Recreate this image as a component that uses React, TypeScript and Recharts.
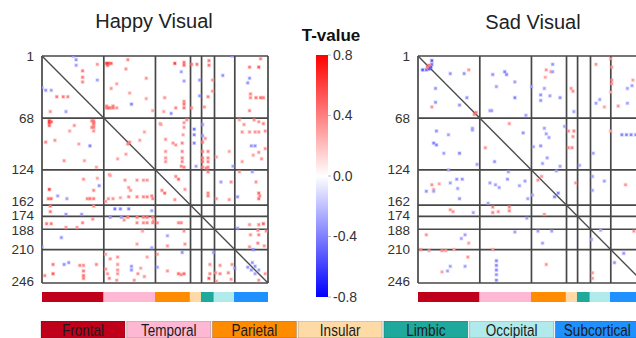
import React from "react";
import {
  ScatterChart,
  Scatter,
  XAxis,
  YAxis,
  ReferenceLine,
  BarChart,
  Bar,
  Cell,
  LabelList,
} from "recharts";

// brain regions (node index where each region starts)
const regionNames = ["Frontal", "Temporal", "Parietal", "Insular", "Limbic", "Occipital", "Subcortical"];
const regionStarts = [1, 68, 124, 162, 174, 188, 210];
const nodeCount = 246;
const regionColors = ["#c0001b", "#ffb8d3", "#ff8c00", "#fddaa6", "#1fa89c", "#b1eaea", "#1e90ff"];

const nodeTicks = [...regionStarts, nodeCount];
const tTicks = [0.8, 0.4, 0, -0.4, -0.8];

// significant edges, upper triangle only: [row, col, t]
const happyEdges: [number, number, number][] = [
  [1, 35, -0.4], [5, 38, -0.4], [11, 38, -0.35], [17, 45, 0.5], [24, 45, 0.5], [29, 45, 0.45],
  [10, 61, 0.4], [27, 61, -0.35], [9, 71, 0.75], [9, 73, 0.75], [9, 76, 0.6], [11, 72, 0.6],
  [5, 94, 0.45], [15, 92, 0.4], [31, 82, 0.35], [36, 76, 0.4], [25, 114, 0.4], [41, 96, 0.35],
  [47, 114, 0.35], [53, 98, -0.45], [55, 71, 0.45], [57, 71, 0.5], [57, 73, 0.55], [57, 75, 0.5],
  [55, 78, 0.45], [57, 78, 0.5], [57, 82, 0.4], [60, 121, 0.35], [9, 145, 0.7], [8, 155, 0.55],
  [11, 155, 0.55], [18, 152, -0.35], [28, 155, -0.35], [46, 134, 0.4], [57, 146, 0.45],
  [50, 155, 0.45], [53, 155, 0.5], [57, 155, 0.5], [63, 141, -0.4], [61, 133, 0.35],
  [10, 163, 0.55], [10, 169, 0.5], [27, 172, -0.4], [44, 172, -0.4], [57, 163, 0.45],
  [6, 182, 0.5], [11, 182, 0.5], [45, 181, 0.45], [27, 186, 0.4], [39, 186, 0.4], [56, 177, 0.4],
  [22, 197, -0.4], [1, 207, -0.4], [13, 226, 0.5], [13, 236, 0.6], [25, 226, -0.4], [30, 224, -0.4],
  [42, 227, 0.45], [46, 227, 0.45], [46, 233, 0.5], [46, 238, 0.55], [46, 241, 0.5], [60, 226, 0.45],
  [4, 238, 0.45],
  [94, 96, 0.45], [92, 107, 0.35], [83, 112, 0.35], [75, 130, 0.35], [91, 135, 0.4], [104, 135, 0.4],
  [111, 135, 0.4], [115, 135, 0.4], [95, 143, 0.4], [97, 146, 0.4], [95, 153, 0.45], [104, 153, 0.45],
  [111, 153, 0.45], [115, 153, 0.45], [121, 155, 0.45], [73, 155, 0.4], [78, 155, 0.4], [70, 158, 0.4],
  [86, 154, 0.35], [80, 166, -0.5], [86, 166, -0.45], [95, 166, -0.45], [75, 175, -0.4], [87, 175, -0.4],
  [94, 175, 0.5], [104, 175, 0.5], [111, 175, 0.5], [115, 175, 0.55], [121, 175, 0.5], [104, 181, 0.45],
  [111, 181, 0.45], [115, 181, 0.45], [121, 181, 0.45], [90, 178, 0.4], [110, 190, 0.35], [104, 204, 0.35],
  [70, 215, 0.35], [83, 218, 0.4], [115, 218, 0.35], [75, 220, 0.4], [83, 226, 0.4], [83, 232, 0.4],
  [83, 236, 0.4], [98, 228, -0.4], [98, 232, -0.4], [105, 236, 0.4], [112, 239, 0.4], [70, 231, 0.4],
  [72, 236, 0.4], [74, 241, 0.45], [108, 230, 0.35], [82, 243, 0.4], [101, 243, 0.4], [74, 129, 0.35],
  [120, 152, 0.45], [120, 168, -0.35], [122, 179, 0.45], [126, 181, 0.45], [120, 208, -0.35],
  [126, 215, 0.4], [126, 229, -0.35], [134, 149, 0.55], [131, 146, 0.45], [145, 156, 0.4],
  [149, 181, 0.45], [152, 181, 0.45], [155, 190, 0.4], [137, 195, -0.35], [137, 206, 0.4],
  [153, 213, -0.4], [156, 204, 0.4], [149, 236, 0.55], [155, 236, 0.55], [137, 233, 0.4], [152, 237, 0.45],
  [187, 213, -0.4], [183, 226, 0.4], [183, 236, 0.45], [189, 235, 0.45], [194, 236, 0.45], [194, 227, 0.4],
  [207, 226, 0.4], [210, 230, -0.45], [203, 235, 0.45], [182, 241, 0.6], [190, 244, 0.4], [206, 242, 0.4],
  [224, 229, -0.4], [228, 232, -0.4], [232, 236, -0.35], [236, 243, 0.4],
];

const sadEdges: [number, number, number][] = [
  [6, 16, -0.6], [10, 16, -0.5], [13, 15, -0.6], [11, 13, 0.5], [20, 36, -0.4], [20, 51, -0.4],
  [16, 56, 0.4], [62, 64, 0.5], [21, 82, -0.4], [18, 95, -0.45], [21, 97, -0.45], [34, 86, -0.35],
  [29, 106, -0.35], [46, 106, -0.45], [60, 79, -0.35], [60, 81, -0.35], [65, 118, -0.35], [46, 54, -0.4],
  [34, 124, -0.35], [16, 140, 0.4], [18, 145, 0.35], [24, 139, 0.35], [10, 147, -0.4], [18, 147, -0.35],
  [36, 138, -0.35], [43, 134, -0.4], [49, 134, -0.4], [44, 144, -0.35], [46, 155, -0.4], [36, 167, 0.4],
  [39, 169, 0.4], [61, 170, -0.35], [10, 194, 0.4], [48, 198, -0.35], [52, 194, -0.35], [56, 203, 0.35],
  [4, 210, 0.45], [13, 211, 0.4], [27, 211, 0.45], [31, 211, 0.4], [40, 210, 0.35], [36, 228, -0.35],
  [52, 228, -0.35], [33, 233, -0.35], [27, 234, 0.35], [55, 218, 0.4],
  [74, 100, 0.4], [84, 115, -0.4], [79, 138, -0.35], [85, 140, -0.35], [98, 134, -0.4], [99, 126, -0.35],
  [77, 160, -0.35], [82, 164, 0.45], [82, 170, 0.45], [88, 169, 0.4], [100, 164, 0.45], [100, 168, 0.45],
  [119, 176, -0.35], [106, 191, -0.35], [82, 210, 0.4], [86, 222, -0.45], [86, 227, -0.45],
  [86, 232, -0.45], [86, 237, -0.4], [86, 243, -0.45], [111, 141, -0.35], [120, 155, -0.35],
  [89, 143, -0.35], [117, 136, -0.35],
  [131, 135, 0.4], [125, 151, -0.35], [149, 153, -0.45], [138, 172, 0.4], [131, 190, -0.35],
  [146, 190, -0.35], [136, 203, -0.35], [140, 226, 0.4], [189, 199, -0.35], [190, 235, 0.4],
  [190, 241, 0.4], [214, 224, -0.4],
];

// dots in the figure are drawn a little paler than the colour bar
const tColor = (v: number) => {
  const t = Math.min(1, (Math.abs(v) / 0.8) * 0.85);
  const c = Math.round(255 * (1 - t));
  return v >= 0 ? `rgb(255,${c},${c})` : `rgb(${c},${c},255)`;
};

// mirror the upper triangle so the matrix is symmetric
const toPoints = (edges: [number, number, number][]) =>
  edges.flatMap(([r, c, v]) => [
    { x: c, y: r, v },
    { x: r, y: c, v },
  ]);

const regionSizes = regionStarts.map((s, i) => (regionStarts[i + 1] ?? nodeCount + 1) - s);
const regionRow = [
  Object.fromEntries([["name", "regions"], ...regionNames.map((n, i) => [n, regionSizes[i]])]),
];

const axisFont = "'Liberation Sans', Arial, sans-serif";
// the crowded labels are spread apart a little in the original
const tickNudge: Record<number, number> = { 162: -4, 174: -1, 188: 1, 246: -2 };

function NodeTick(props: any) {
  const { x, y, payload } = props;
  return (
    <text
      x={x}
      y={y + (tickNudge[payload.value] ?? 0)}
      textAnchor="end"
      dominantBaseline="central"
      fontSize={13.5}
      fill="#333"
      fontFamily={axisFont}
    >
      {payload.value}
    </text>
  );
}

function Dot(props: any) {
  const { cx, cy, payload } = props;
  if (cx == null || cy == null) return null;
  const fill = tColor(payload.v);
  return (
    <g>
      <rect x={cx - 2} y={cy - 2} width={4} height={4} fill={fill} opacity={0.3} />
      <rect x={cx - 1.2} y={cy - 1.2} width={2.4} height={2.4} fill={fill} />
    </g>
  );
}

function Matrix({ edges, left }: { edges: [number, number, number][]; left: number }) {
  const points = toPoints(edges);
  return (
    <>
      <div style={{ position: "absolute", left, top: 0 }}>
        <ScatterChart width={275} height={305} margin={{ top: 56, right: 7, bottom: 22, left: 0 }}>
          <XAxis type="number" dataKey="x" domain={[1, nodeCount]} allowDataOverflow hide />
          <YAxis
            type="number"
            dataKey="y"
            domain={[1, nodeCount]}
            allowDataOverflow
            reversed
            ticks={nodeTicks}
            interval={0}
            width={42}
            axisLine={false}
            tickLine={false}
            tick={<NodeTick />}
          />
          {nodeTicks.map((t) => (
            <ReferenceLine key={"v" + t} x={t} stroke="#474747" strokeWidth={1.7} />
          ))}
          {nodeTicks.map((t) => (
            <ReferenceLine key={"h" + t} y={t} stroke="#474747" strokeWidth={1.7} />
          ))}
          <ReferenceLine
            segment={[
              { x: 1, y: 1 },
              { x: nodeCount, y: nodeCount },
            ]}
            stroke="#4d4d4d"
            strokeWidth={1.4}
          />
          <Scatter data={points} shape={<Dot />} isAnimationActive={false} />
        </ScatterChart>
      </div>
      <div style={{ position: "absolute", left, top: 290 }}>
        <BarChart
          width={275}
          height={14}
          layout="vertical"
          data={regionRow}
          margin={{ top: 2, right: 7, bottom: 2, left: 42 }}
          barCategoryGap={0}
        >
          <XAxis type="number" domain={[0, nodeCount]} hide />
          <YAxis type="category" dataKey="name" hide />
          {regionNames.map((n, i) => (
            <Bar key={n} dataKey={n} stackId="r" fill={regionColors[i]} isAnimationActive={false} />
          ))}
        </BarChart>
      </div>
    </>
  );
}

const colorbarRow = [{ name: "T-value", span: [-0.8, 0.8] }];
const legendRow = regionNames.map((name) => ({ name, v: 1 }));

// condensed lettering, like the narrow font of the original legend
function LegendLabel(props: any) {
  const { x, y, width, height, value } = props;
  return (
    <text
      transform={`translate(${x + width / 2},${y + height / 2 + 0.5}) scale(0.82,1)`}
      textAnchor="middle"
      dominantBaseline="central"
      fontSize={16.5}
      fill="#1a1a1a"
      fontFamily={axisFont}
    >
      {value}
    </text>
  );
}

export default function App() {
  return (
    <div
      style={{
        position: "absolute",
        left: 0,
        top: 0,
        width: 636,
        height: 338,
        overflow: "hidden",
        background: "#fff",
        fontFamily: axisFont,
      }}
    >
      <Matrix edges={happyEdges} left={0} />
      <Matrix edges={sadEdges} left={376} />

      <div style={{ position: "absolute", left: 300, top: 0 }}>
        <BarChart
          width={80}
          height={338}
          data={colorbarRow}
          margin={{ top: 55, right: 0, bottom: 41, left: 16 }}
          barCategoryGap={0}
        >
          <defs>
            <linearGradient id="tGrad" x1="0" y1="0" x2="0" y2="1">
              <stop offset="0%" stopColor="#ff0000" />
              <stop offset="50%" stopColor="#ffffff" />
              <stop offset="100%" stopColor="#0000ff" />
            </linearGradient>
          </defs>
          <XAxis type="category" dataKey="name" hide />
          <YAxis
            orientation="right"
            type="number"
            domain={[-0.8, 0.8]}
            ticks={tTicks}
            interval={0}
            width={52}
            axisLine={false}
            tickSize={3}
            tickMargin={2}
            tickLine={{ stroke: "#bbb" }}
            tickFormatter={(v: number) => v.toFixed(1)}
            tick={{ fontSize: 14, fill: "#333", fontFamily: axisFont }}
          />
          <Bar dataKey="span" fill="url(#tGrad)" isAnimationActive={false} />
        </BarChart>
      </div>

      <div style={{ position: "absolute", left: 40, top: 321 }}>
        <BarChart width={600} height={17} data={legendRow} margin={{ top: 0, right: 0, bottom: 0, left: 0 }} barCategoryGap={1}>
          <XAxis type="category" dataKey="name" hide />
          <YAxis type="number" domain={[0, 1]} hide />
          <Bar dataKey="v" isAnimationActive={false} stroke="rgba(0,0,0,0.25)" strokeWidth={0.8}>
            {legendRow.map((d, i) => (
              <Cell key={d.name} fill={regionColors[i]} />
            ))}
            <LabelList dataKey="name" content={<LegendLabel />} />
          </Bar>
        </BarChart>
      </div>

      <svg width={636} height={338} style={{ position: "absolute", left: 0, top: 0, pointerEvents: "none" }}>
        <text x={154} y={28} textAnchor="middle" fontSize={20} fill="#222" fontFamily={axisFont}>
          Happy Visual
        </text>
        <text x={533} y={29} textAnchor="middle" fontSize={20} fill="#222" fontFamily={axisFont}>
          Sad Visual
        </text>
        <text x={331} y={41} textAnchor="middle" fontSize={17} fontWeight="bold" fill="#111" fontFamily={axisFont}>
          T-value
        </text>
      </svg>
    </div>
  );
}
